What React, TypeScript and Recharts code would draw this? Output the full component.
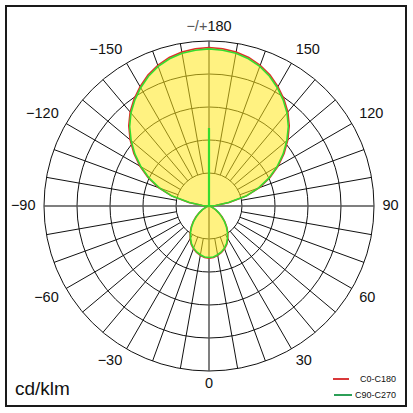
import { RadarChart, Radar, PolarGrid, PolarAngleAxis, PolarRadiusAxis } from "recharts"

// gamma angle of each sample (0 = straight down, 180 = straight up)
const gamma = [
  0, 5, 10, 15, 20, 25, 30, 35, 40, 45, 50, 55, 60, 65, 70, 75, 80, 85,
  90, 95, 100, 105, 110, 115, 120, 125, 130, 135, 140, 145, 150, 155, 160, 165, 170, 175,
  180, 185, 190, 195, 200, 205, 210, 215, 220, 225, 230, 235, 240, 245, 250, 255, 260, 265,
  270, 275, 280, 285, 290, 295, 300, 305, 310, 315, 320, 325, 330, 335, 340, 345, 350, 355,
]

// cd/klm, C0-C180 plane
const c0c180 = [
  79, 78.5, 76, 73, 69, 64, 57, 50, 42, 34, 26, 19, 12.5, 7.5, 4, 2, 1, 0,
  0, 10, 31, 59, 82, 102, 121, 139, 156, 172, 186, 198, 209, 219, 227, 233, 237, 239,
  240, 239, 237, 233, 227, 219, 209, 198, 186, 172, 156, 139, 121, 102, 82, 59, 31, 10,
  0, 0, 1, 2, 4, 7.5, 12.5, 19, 26, 34, 42, 50, 57, 64, 69, 73, 76, 78.5,
]

// cd/klm, C90-C270 plane
const c90c270 = [
  78, 77.5, 75, 72, 68, 63, 56, 49, 41, 33, 25, 18, 12, 7, 4, 2, 1, 0,
  0, 10, 30, 58, 80, 100, 119, 137, 154, 170, 184, 196, 207, 217, 225, 231, 235, 237,
  238, 237, 235, 231, 225, 217, 207, 196, 184, 170, 154, 137, 119, 100, 80, 58, 30, 10,
  0, 0, 1, 2, 4, 7, 12, 18, 25, 33, 41, 49, 56, 63, 68, 72, 75, 77.5,
]

// the short green stroke up the 180 axis
const c90spike = [
  0, 0, 0, 0, 0, 0, 0, 0, 0, 0, 0, 0, 0, 0, 0, 0, 0, 0,
  0, 0, 0, 0, 0, 0, 0, 0, 0, 0, 0, 0, 0, 0, 0, 0, 0, 0,
  118, 0, 0, 0, 0, 0, 0, 0, 0, 0, 0, 0, 0, 0, 0, 0, 0, 0,
  0, 0, 0, 0, 0, 0, 0, 0, 0, 0, 0, 0, 0, 0, 0, 0, 0, 0,
]

const tickValues = [0, 30, 60, 90, 120, 150, 180, 210, 240, 270, 300, 330]
const tickLabels = ["0", "30", "60", "90", "120", "150", "−/+180", "−150", "−120", "−90", "−60", "−30"]

const maxValue = 250

const W = 413
const H = 413
const CX = 209
const CY = 206
const R = 165
const INNER = 33
const LABEL_R = 173.5
const FONT = 14.5
const HALF_H = 5.25

const data = gamma.map((g, i) => ({
  g,
  c0: c0c180[i],
  c90: c90c270[i],
  spike: c90spike[i],
}))

const rings = [1, 2, 3, 4, 5].map((i) => (i * R) / 5)
const spokes = Array.from({ length: 36 }, (_, i) => i * 10).filter((a) => a % 90 !== 0)
const margin = { top: 0, right: 0, bottom: 0, left: 0 }

// rough Arial widths, enough to set the label box beside its anchor point
function textWidth(s: string) {
  let w = 0
  for (const ch of s) w += ch === "−" || ch === "+" ? 0.584 : ch === "/" ? 0.278 : 0.556
  return w * FONT
}

function AngleTick(props: any) {
  const { payload } = props
  const g = Number(payload.value)
  const idx = tickValues.indexOf(g)
  if (idx < 0) return <g />
  const label = tickLabels[idx]
  const rad = (-payload.coordinate * Math.PI) / 180
  const c = Math.cos(rad)
  const s = Math.sin(rad)
  // nearest corner of the label box sits on the tick ray
  const px = CX + LABEL_R * c
  const py = CY + LABEL_R * s - 1.5
  const tx = px + (Math.abs(c) > 0.01 ? Math.sign(c) * (textWidth(label) / 2) : 0)
  const ty = py + (Math.abs(s) > 0.01 ? Math.sign(s) * HALF_H : 0)
  return (
    <text
      x={tx}
      y={ty}
      textAnchor="middle"
      dominantBaseline="central"
      fontSize={FONT}
      fill="#111"
      fontFamily='"Liberation Sans", Arial, sans-serif'
    >
      {g === 180 ? (
        <>
          <tspan fill="#555">−/+</tspan>180
        </>
      ) : (
        label
      )}
    </text>
  )
}

export default function App() {
  return (
    <div
      style={{
        position: "absolute",
        left: 0,
        top: 0,
        width: W,
        height: H,
        background: "#fff",
        fontFamily: '"Liberation Sans", Arial, sans-serif',
      }}
    >
      <div
        style={{
          position: "absolute",
          left: 5,
          top: 5,
          width: 398,
          height: 398,
          border: "2px solid #1a1a1a",
        }}
      />

      {/* grid: rings plus spokes that start at the first ring */}
      <div style={{ position: "absolute", left: 0, top: 0 }}>
        <RadarChart
          width={W}
          height={H}
          cx={CX}
          cy={CY}
          innerRadius={INNER}
          outerRadius={R}
          margin={margin}
          data={data}
        >
          <PolarGrid gridType="circle" polarAngles={spokes} polarRadius={rings} stroke="#111" strokeWidth={1} />
        </RadarChart>
      </div>

      {/* curves */}
      <div style={{ position: "absolute", left: 0, top: 0 }}>
        <RadarChart
          width={W}
          height={H}
          cx={CX}
          cy={CY}
          innerRadius={0}
          outerRadius={R}
          startAngle={-90}
          endAngle={270}
          margin={margin}
          data={data}
        >
          <PolarGrid gridType="circle" polarAngles={[0, 90, 180, 270]} polarRadius={[]} stroke="#555" strokeWidth={1.5} />
          <PolarRadiusAxis domain={[0, maxValue]} tick={false} axisLine={false} />
          <PolarAngleAxis
            dataKey="g"
            type="number"
            domain={[0, 360]}
            ticks={tickValues}
            tick={AngleTick}
            tickLine={false}
            axisLine={false}
          />
          <Radar
            dataKey="c0"
            name="C0-C180"
            stroke="#e0302a"
            strokeWidth={1.5}
            fill="#ffe81a"
            fillOpacity={0.55}
            dot={false}
            isAnimationActive={false}
          />
          <Radar
            dataKey="c90"
            name="C90-C270"
            stroke="#35dc2f"
            strokeWidth={1.6}
            fill="none"
            dot={false}
            isAnimationActive={false}
          />
          <Radar
            dataKey="spike"
            stroke="#35dc2f"
            strokeWidth={2.2}
            fill="none"
            dot={false}
            legendType="none"
            isAnimationActive={false}
          />
        </RadarChart>
      </div>

      <div style={{ position: "absolute", left: 15, top: 378, fontSize: 19, lineHeight: "22px", color: "#111" }}>
        cd/klm
      </div>

      <div style={{ position: "absolute", left: 330, top: 372, width: 66, fontSize: 9, color: "#111" }}>
        <div style={{ display: "flex", alignItems: "center", justifyContent: "flex-end", height: 14 }}>
          <span style={{ width: 16, height: 2, background: "#d9383a", marginRight: 11 }} />
          <span>C0-C180</span>
        </div>
        <div style={{ display: "flex", alignItems: "center", justifyContent: "flex-end", height: 14, marginTop: 2 }}>
          <span style={{ width: 18, height: 2, background: "#2c9f57", marginRight: 3 }} />
          <span>C90-C270</span>
        </div>
      </div>
    </div>
  )
}
